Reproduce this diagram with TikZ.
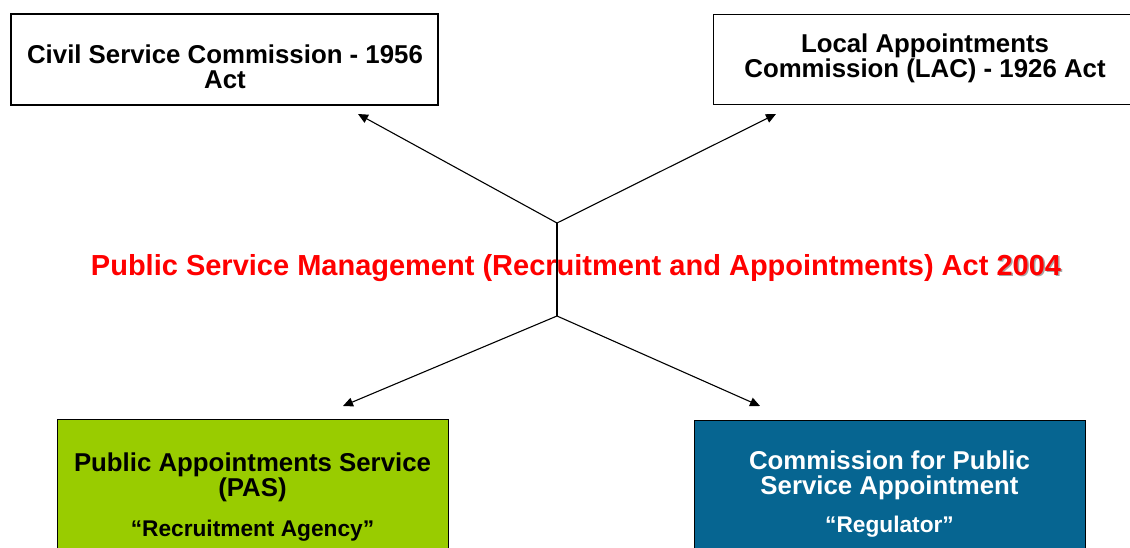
\documentclass[tikz,border=0pt]{standalone}
\usepackage{fontspec}
\setmainfont{Liberation Sans}
\usetikzlibrary{arrows.meta}
\definecolor{pasgreen}{HTML}{99CC00}
\definecolor{cpsablue}{HTML}{066591}
\definecolor{actred}{HTML}{FF0000}
\begin{document}
\begin{tikzpicture}[x=1pt,y=-1pt,
  box/.style={draw=black, line width=1.1pt, inner sep=0pt},
  boxtext/.style={align=center, font=\fontsize{25.8}{25}\selectfont\bfseries, inner sep=0pt},
  subtext/.style={align=center, font=\fontsize{22.7}{24}\selectfont\bfseries, inner sep=0pt},
  conn/.style={line width=1.1pt, draw=black},
  arr/.style={conn, -{Triangle[width=9pt,length=10pt]}}
]
\useasboundingbox (0,0) rectangle (1130,548);
\clip (0,0) rectangle (1130,548);
\fill[white] (0,0) rectangle (1130,548);

% top boxes
\node[box, minimum width=427pt, minimum height=91pt] (csc) at (224.5,59.5) {};
\node[boxtext] (csct) at (225,67) {Civil Service Commission - 1956\\Act};

\node[box, minimum width=430pt, minimum height=90pt, anchor=north west] (lac) at (713,14) {};
\node[boxtext] (lact) at (925,58) {Local Appointments\\Commission (LAC) - 1926 Act};

% bottom boxes
\node[box, fill=pasgreen, minimum width=391pt, minimum height=160pt, anchor=north west] (pas) at (57,419) {};
\node[boxtext] (past) at (252.5,477) {Public Appointments Service\\(PAS)};
\node[subtext] (pass) at (252.5,531) {“Recruitment Agency”};

\node[box, fill=cpsablue, minimum width=391pt, minimum height=160pt, anchor=north west] (cpsa) at (694,420) {};
\node[boxtext, text=white] (cpsat) at (889.5,475) {Commission for Public\\Service Appointment};
\node[subtext, text=white] (cpsas) at (889.5,527) {“Regulator”};

% connectors
\coordinate (j1) at (557,223);
\coordinate (j2) at (557,316);
\coordinate (e1) at (358,114);
\coordinate (e2) at (776,114);
\coordinate (e3) at (343,406);
\coordinate (e4) at (760,406);
\draw[conn] (j1) -- (j2);
\draw[arr] (j1) -- (e1);
\draw[arr] (j1) -- (e2);
\draw[arr] (j2) -- (e3);
\draw[arr] (j2) -- (e4);

% central title
\node[inner sep=0pt, text=actred, font=\fontsize{29}{30}\selectfont\bfseries] (act) at (576,268)
  {Public Service Management (Recruitment and Appointments) Act \makebox[0pt][l]{\kern1.5pt\raisebox{-1.5pt}{\color{black!35}2004}}2004};
\end{tikzpicture}
\end{document}
